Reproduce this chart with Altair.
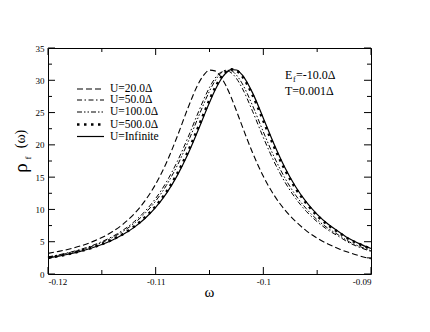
import altair as alt
import pandas as pd

# ---- data ----
omega = [-0.120, -0.119, -0.118, -0.117, -0.116, -0.115, -0.114, -0.113, -0.112, -0.111,
         -0.110, -0.109, -0.108, -0.107, -0.106, -0.1055, -0.105, -0.1045, -0.104, -0.1035,
         -0.103, -0.1025, -0.102, -0.101, -0.100, -0.099, -0.098, -0.097, -0.096, -0.095,
         -0.094, -0.093, -0.092, -0.091, -0.090]

rho_U20 = [3.20, 3.50, 3.87, 4.33, 4.91, 5.64, 6.57, 7.76, 9.31, 11.32,
           13.92, 17.23, 21.29, 25.71, 29.59, 30.88, 31.57, 31.46, 30.67, 29.26,
           27.41, 25.28, 23.06, 18.79, 15.13, 12.20, 9.92, 8.15, 6.68, 5.55,
           4.65, 3.90, 3.30, 2.78, 2.35]
rho_U50 = [2.65, 2.97, 3.35, 3.80, 4.34, 5.01, 5.82, 6.83, 8.10, 9.69,
           11.71, 14.25, 17.40, 21.14, 25.20, 27.16, 28.90, 30.29, 31.19, 31.50,
           31.19, 30.29, 28.90, 25.20, 21.14, 17.40, 14.25, 11.71, 9.69, 8.10,
           6.83, 5.82, 4.81, 4.09, 3.50]
rho_U100 = [2.60, 2.91, 3.28, 3.71, 4.24, 4.88, 5.66, 6.64, 7.84, 9.38,
            11.30, 13.74, 16.77, 20.41, 24.46, 26.47, 28.32, 29.88, 31.00, 31.55,
            31.49, 30.81, 29.60, 26.08, 22.01, 18.16, 14.88, 12.21, 10.10, 8.41,
            7.09, 6.03, 4.97, 4.23, 3.61]
rho_U500 = [2.50, 2.79, 3.13, 3.54, 4.03, 4.62, 5.35, 6.24, 7.35, 8.75,
            10.50, 12.73, 15.54, 18.96, 22.90, 24.95, 26.95, 28.76, 30.25, 31.25,
            31.69, 31.50, 30.71, 27.71, 23.73, 19.71, 16.17, 13.26, 10.93, 9.06,
            7.60, 6.44, 5.36, 4.56, 3.89]
rho_Uinf = [2.47, 2.76, 3.10, 3.50, 3.98, 4.56, 5.27, 6.14, 7.22, 8.59,
            10.32, 12.48, 15.24, 18.58, 22.48, 24.54, 26.55, 28.42, 29.97, 31.09,
            31.65, 31.59, 30.91, 28.05, 24.13, 20.09, 16.49, 13.51, 11.12, 9.24,
            7.73, 6.55, 5.45, 4.62, 3.95]

series_labels = ["U=20.0\u0394", "U=50.0\u0394", "U=100.0\u0394", "U=500.0\u0394", "U=Infinite"]
series_values = [rho_U20, rho_U50, rho_U100, rho_U500, rho_Uinf]

x_major = [-0.12, -0.11, -0.10, -0.09]
x_minor = [-0.115, -0.105, -0.095]
y_major = [0, 5, 10, 15, 20, 25, 30, 35]
y_minor = [2.5, 7.5, 12.5, 17.5, 22.5, 27.5, 32.5]

# ---- styling ----
W, H = 323, 226
FONT = "Liberation Serif"
styles = [
    dict(strokeWidth=1.1, strokeDash=[6, 3]),
    dict(strokeWidth=1.0, strokeDash=[5, 2.5, 1.5, 2.5]),
    dict(strokeWidth=1.0, strokeDash=[5, 2, 1.5, 2, 1.5, 2]),
    dict(strokeWidth=2.6, strokeDash=[2.5, 4.5]),
    dict(strokeWidth=1.2),
]

xscale = alt.Scale(domain=[-0.12, -0.09], nice=False, zero=False)
yscale = alt.Scale(domain=[0, 35], nice=False, zero=False)

xaxis = alt.Axis(values=x_major, labelExpr="'' + datum.value", title=None, tickSize=0,
                 domain=False, grid=False, labelFont=FONT, labelFontSize=9, labelPadding=3,
                 labelColor="black")
yaxis = alt.Axis(values=y_major, title=None, tickSize=0, domain=False, grid=False,
                 labelFont=FONT, labelFontSize=9, labelPadding=4, labelColor="black")

one = pd.DataFrame({"k": [0]})
layers = []

# curves
for i, (vals, st) in enumerate(zip(series_values, styles)):
    df = pd.DataFrame({"omega": omega, "rho": vals})
    layers.append(
        alt.Chart(df).mark_line(color="black", interpolate="monotone", **st).encode(
            x=alt.X("omega:Q", scale=xscale, axis=xaxis),
            y=alt.Y("rho:Q", scale=yscale, axis=yaxis),
        )
    )

# inward ticks on all four sides
def xticks(vals, length):
    d = pd.DataFrame({"omega": vals})
    enc_x = alt.X("omega:Q", scale=xscale, axis=xaxis)
    bottom = alt.Chart(d).mark_rule(color="black", strokeWidth=1).encode(
        x=enc_x, y=alt.value(H), y2=alt.value(H - length))
    top = alt.Chart(d).mark_rule(color="black", strokeWidth=1).encode(
        x=enc_x, y=alt.value(0), y2=alt.value(length))
    return [bottom, top]

def yticks(vals, length):
    d = pd.DataFrame({"rho": vals})
    enc_y = alt.Y("rho:Q", scale=yscale, axis=yaxis)
    left = alt.Chart(d).mark_rule(color="black", strokeWidth=1).encode(
        y=enc_y, x=alt.value(0), x2=alt.value(length))
    right = alt.Chart(d).mark_rule(color="black", strokeWidth=1).encode(
        y=enc_y, x=alt.value(W), x2=alt.value(W - length))
    return [left, right]

layers += xticks(x_major, 7) + xticks(x_minor, 4) + yticks(y_major, 7) + yticks(y_minor, 4)

# legend
legend_y = [41, 52, 64, 76.5, 88.5]
for lab, st, ly in zip(series_labels, styles, legend_y):
    layers.append(
        alt.Chart(one).mark_rule(color="black", **st).encode(
            x=alt.value(29), x2=alt.value(56), y=alt.value(ly), y2=alt.value(ly))
    )
    layers.append(
        alt.Chart(one).mark_text(text=lab, font=FONT, fontSize=11.5, align="left",
                                 baseline="middle", color="black").encode(
            x=alt.value(62), y=alt.value(ly))
    )

# annotations
def txt(s, x, y, size, align="left", baseline="alphabetic", angle=0):
    kw = dict(text=s, font=FONT, fontSize=size, align=align, baseline=baseline, color="black")
    if angle:
        kw["angle"] = angle
    return alt.Chart(one).mark_text(**kw).encode(x=alt.value(x), y=alt.value(y))

layers += [
    txt("E", 237, 31, 12),
    txt("f", 245, 34, 8),
    txt("=-10.0\u0394", 248, 31, 12),
    txt("T=0.001\u0394", 237, 47, 12),
    # x title
    txt("\u03c9", W / 2, 244, 15, align="center", baseline="middle"),
    # y title (rotated)
    txt("\u03c1", -27, 120, 19, align="center", baseline="middle", angle=270),
    txt("f", -20, 110, 9, align="center", baseline="middle", angle=270),
    txt("(\u03c9)", -27, 91, 14, align="center", baseline="middle", angle=270),
]

chart = alt.layer(*layers).properties(
    width=W, height=H,
    padding={"left": 40, "top": 40, "right": 50, "bottom": 50},
    autosize=alt.AutoSizeParams(type="none"),
    background="white",
).configure_view(stroke="black", strokeWidth=1)

chart.save("out.html", embed_options={"renderer": "svg", "actions": False})
